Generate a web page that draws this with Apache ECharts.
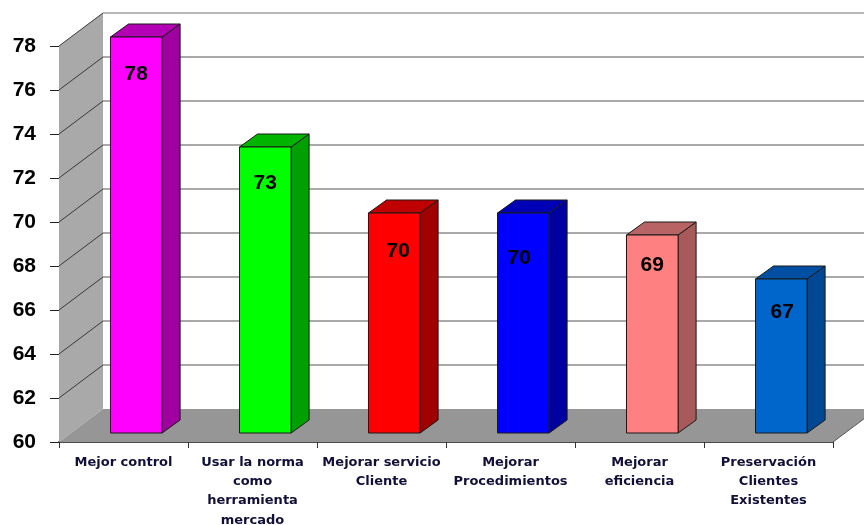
<!DOCTYPE html>
<html>
<head>
<meta charset="utf-8">
<style>html,body{margin:0;padding:0;background:#fff}#c{width:864px;height:525px}</style>
<script src="https://cdn.jsdelivr.net/npm/echarts@6/dist/echarts.min.js"></script>
</head>
<body>
<div id="c"></div>
<script>
const categories = ["Mejor control","Usar la norma\ncomo\nherramienta\nmercado","Mejorar servicio\nCliente","Mejorar\nProcedimientos","Mejorar\neficiencia","Preservación\nClientes\nExistentes"];
const values = [78,73,70,70,69,67];
const gridTicks = [62,64,66,68,70,72,74,76,78];
const frontColors = ["#ff00ff","#00ff00","#ff0000","#0000ff","#ff8080","#0066cc"];
const sideColors = ["#a000a0","#00a000","#a00000","#0000a0","#a85a5a","#004794"];
const topColors = ["#b400b4","#00b400","#c00000","#0000b4","#b86464","#004fa3"];
const labelShiftX = [0,0,4,-4,0,1];
const labelShiftY = [37,36,38,45,30,33];

const DX = 44, DY = -33;        // full chart depth
const BAR_FX = 12.8, BAR_FY = -9; // bar front plane
const BAR_DX = 18, BAR_DY = -13;  // bar depth
const Y_MIN = 60, Y_MAX = 78;

function poly(points, fill, stroke, lw){
  return {type:'polygon', shape:{points}, style:{fill, stroke:stroke||null, lineWidth:lw||0}};
}
function line(points, stroke, lw){
  return {type:'polyline', shape:{points}, style:{fill:null, stroke, lineWidth:lw}};
}
function edges(api){
  const half = api.size([1,0])[0]/2;
  return {
    x0: api.coord([0,Y_MIN])[0]-half,
    x1: api.coord([categories.length-1,Y_MIN])[0]+half,
    half
  };
}

function renderWalls(params, api){
  const e = edges(api);
  const yb = api.coord([0,Y_MIN])[1], yt = api.coord([0,Y_MAX])[1];
  return {type:'group', children:[
    poly([[e.x0,yb],[e.x0+DX,yb+DY],[e.x0+DX,yt+DY],[e.x0,yt]], '#a9a9a9'),
    poly([[e.x0,yb],[e.x1,yb],[e.x1+DX,yb+DY],[e.x0+DX,yb+DY]], '#969696'),
    line([[e.x1,yb],[e.x1+DX,yb+DY]], '#555', 1)
  ]};
}
function renderGrid(params, api){
  const e = edges(api);
  const v = api.value(0);
  const y = api.coord([0,v])[1];
  return {type:'group', children:[
    line([[e.x0,y],[e.x0+DX,y+DY]], '#3a3a3a', 1),
    line([[e.x0+DX,y+DY],[e.x1+DX,y+DY]], v===78?'#a0a0a0':'#8c8c8c', 1.4)
  ]};
}
function renderBar(params, api){
  const i = params.dataIndex;
  const c = api.coord([i,api.value(1)]);
  const b = api.coord([i,Y_MIN]);
  const w = api.size([1,0])[0]*0.4;
  const l = c[0]+BAR_FX-w/2, r = l+w;
  const t = c[1]+BAR_FY, bt = b[1]+BAR_FY;
  const S = '#1a1a1a';
  return {type:'group', children:[
    poly([[r,t],[r+BAR_DX,t+BAR_DY],[r+BAR_DX,bt+BAR_DY],[r,bt]], sideColors[i], S, 1),
    poly([[l,t],[l+BAR_DX,t+BAR_DY],[r+BAR_DX,t+BAR_DY],[r,t]], topColors[i], S, 1),
    poly([[l,t],[r,t],[r,bt],[l,bt]], frontColors[i], S, 1),
    {type:'text', style:{
      text:String(api.value(1)), x:(l+r)/2+labelShiftX[i], y:t+labelShiftY[i],
      align:'center', verticalAlign:'middle', fill:'#000',
      font:'bold 21px "Liberation Sans", Arial, sans-serif'
    }}
  ]};
}

const chart = echarts.init(document.getElementById('c'), null, {renderer:'canvas'});
chart.setOption({
  animation:false,
  backgroundColor:'#fff',
  tooltip:{show:false},
  grid:{left:59, right:31, top:46, bottom:83, outerBoundsMode:'none', containLabel:false},
  xAxis:{
    type:'category', data:categories, boundaryGap:true,
    axisLine:{show:true, onZero:false, lineStyle:{color:'#4a4a4a', width:2}},
    axisTick:{show:true, length:6, alignWithLabel:false, lineStyle:{color:'#333', width:1}},
    splitLine:{show:false},
    axisLabel:{interval:0, margin:11, lineHeight:19.2, color:'#10103a', hideOverlap:false,
      fontFamily:'"DejaVu Sans", Verdana, sans-serif', fontWeight:'bold', fontSize:13, align:'center'}
  },
  yAxis:{
    type:'value', min:Y_MIN, max:Y_MAX, interval:2,
    axisLine:{show:false},
    axisTick:{show:true, length:9, lineStyle:{color:'#222', width:1}},
    splitLine:{show:false},
    axisLabel:{margin:23, color:'#000',
      fontFamily:'"Liberation Sans", Arial, sans-serif', fontWeight:'bold', fontSize:21}
  },
  series:[
    {type:'custom', coordinateSystem:'cartesian2d', clip:false, silent:true, z:1,
     data:[[0,Y_MIN]], renderItem:renderWalls, encode:{x:0,y:1}},
    {type:'custom', coordinateSystem:'cartesian2d', clip:false, silent:true, z:2,
     data:gridTicks.map(v=>[v]), renderItem:renderGrid, encode:{y:0}},
    {type:'custom', coordinateSystem:'cartesian2d', clip:false, silent:true, z:3,
     data:values.map((v,i)=>[i,v]), renderItem:renderBar, encode:{x:0,y:1}}
  ]
});
</script>
</body>
</html>
